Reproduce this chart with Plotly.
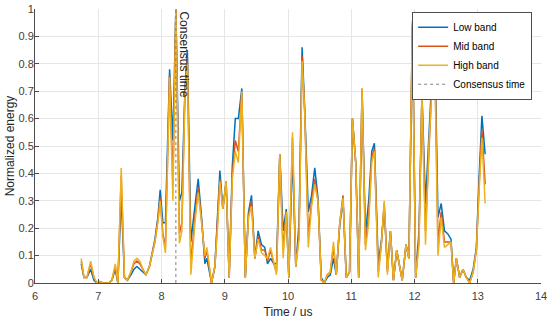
import plotly.graph_objects as go

time_us = [6.731, 6.774, 6.821, 6.880, 6.932, 6.979, 7.027, 7.074, 7.122, 7.169,
           7.216, 7.269, 7.311, 7.363, 7.414, 7.461, 7.517, 7.564, 7.611, 7.659,
           7.706, 7.754, 7.809, 7.848, 7.896, 7.943, 7.979, 8.022, 8.062, 8.128,
           8.180, 8.227, 8.283, 8.322, 8.370, 8.409, 8.464, 8.528, 8.580, 8.633,
           8.686, 8.717, 8.791, 8.844, 8.891, 8.923, 8.970, 9.022, 9.070, 9.120,
           9.167, 9.215, 9.270, 9.325, 9.376, 9.423, 9.476, 9.528, 9.581, 9.633,
           9.676, 9.724, 9.776, 9.818, 9.870, 9.923, 9.973, 10.013, 10.071, 10.123,
           10.175, 10.223, 10.265, 10.321, 10.373, 10.423, 10.474, 10.526, 10.573, 10.621,
           10.668, 10.719, 10.763, 10.818, 10.870, 10.921, 10.973, 11.019, 11.071, 11.118,
           11.171, 11.224, 11.276, 11.324, 11.366, 11.427, 11.479, 11.521, 11.572, 11.619,
           11.667, 11.719, 11.758, 11.806, 11.866, 11.912, 11.967, 12.019, 12.071, 12.118,
           12.174, 12.227, 12.272, 12.319, 12.371, 12.422, 12.474, 12.524, 12.577, 12.619,
           12.662, 12.714, 12.766, 12.820, 12.872, 12.927, 12.978, 13.022, 13.066, 13.117]

low_band = [0.07, 0.02, 0.02, 0.05, 0.01, 0.00, 0.005, 0.00, 0.00, 0.00,
            0.01, 0.05, 0.00, 0.32, 0.02, 0.01, 0.03, 0.05, 0.06, 0.05,
            0.04, 0.03, 0.06, 0.11, 0.16, 0.24, 0.34, 0.22, 0.22, 0.78,
            0.52, 1.00, 0.30, 0.33, 0.70, 0.85, 0.15, 0.28, 0.38, 0.24,
            0.07, 0.09, 0.00, 0.06, 0.25, 0.41, 0.27, 0.37, 0.02, 0.43,
            0.60, 0.60, 0.71, 0.02, 0.26, 0.32, 0.09, 0.19, 0.14, 0.13,
            0.07, 0.09, 0.07, 0.07, 0.47, 0.19, 0.27, 0.02, 0.47, 0.06,
            0.22, 0.86, 0.63, 0.26, 0.32, 0.42, 0.31, 0.02, 0.00, 0.02,
            0.03, 0.09, 0.03, 0.21, 0.30, 0.02, 0.04, 0.60, 0.44, 0.02,
            0.70, 0.18, 0.30, 0.48, 0.51, 0.07, 0.16, 0.28, 0.05, 0.19,
            0.01, 0.12, 0.07, 0.01, 0.14, 0.09, 0.94, 0.02, 0.19, 0.69,
            0.29, 0.53, 0.74, 0.89, 0.24, 0.29, 0.19, 0.18, 0.16, 0.00,
            0.09, 0.02, 0.05, 0.02, 0.01, 0.05, 0.13, 0.39, 0.61, 0.47]

mid_band = [0.08, 0.02, 0.02, 0.07, 0.02, 0.00, 0.005, 0.00, 0.00, 0.00,
            0.01, 0.06, 0.00, 0.39, 0.02, 0.01, 0.04, 0.07, 0.08, 0.07,
            0.05, 0.03, 0.06, 0.10, 0.15, 0.23, 0.31, 0.18, 0.13, 0.76,
            0.36, 1.00, 0.18, 0.22, 0.69, 0.82, 0.06, 0.24, 0.35, 0.23,
            0.09, 0.12, 0.00, 0.06, 0.23, 0.38, 0.27, 0.37, 0.02, 0.40,
            0.52, 0.48, 0.70, 0.02, 0.25, 0.30, 0.09, 0.17, 0.12, 0.12,
            0.08, 0.12, 0.07, 0.04, 0.47, 0.12, 0.26, 0.02, 0.53, 0.06,
            0.18, 0.83, 0.62, 0.17, 0.30, 0.38, 0.30, 0.01, 0.00, 0.03,
            0.04, 0.13, 0.03, 0.22, 0.32, 0.02, 0.04, 0.60, 0.44, 0.02,
            0.71, 0.14, 0.25, 0.46, 0.49, 0.04, 0.15, 0.29, 0.04, 0.19,
            0.01, 0.12, 0.07, 0.01, 0.14, 0.09, 0.95, 0.02, 0.16, 0.69,
            0.19, 0.51, 0.71, 0.85, 0.15, 0.26, 0.15, 0.15, 0.15, 0.00,
            0.09, 0.02, 0.05, 0.02, 0.00, 0.04, 0.12, 0.36, 0.56, 0.36]

high_band = [0.09, 0.02, 0.02, 0.08, 0.02, 0.00, 0.005, 0.00, 0.00, 0.00,
             0.01, 0.07, 0.00, 0.42, 0.02, 0.01, 0.04, 0.08, 0.09, 0.08,
             0.05, 0.03, 0.06, 0.10, 0.15, 0.22, 0.30, 0.17, 0.11, 0.75,
             0.30, 1.00, 0.145, 0.19, 0.68, 0.80, 0.03, 0.22, 0.33, 0.22,
             0.10, 0.13, 0.00, 0.06, 0.22, 0.37, 0.27, 0.37, 0.02, 0.38,
             0.48, 0.44, 0.70, 0.02, 0.24, 0.28, 0.09, 0.16, 0.11, 0.10,
             0.09, 0.13, 0.07, 0.03, 0.47, 0.09, 0.26, 0.02, 0.55, 0.06,
             0.16, 0.81, 0.62, 0.13, 0.28, 0.36, 0.30, 0.01, 0.00, 0.03,
             0.04, 0.15, 0.03, 0.22, 0.31, 0.02, 0.04, 0.60, 0.44, 0.02,
             0.71, 0.12, 0.22, 0.44, 0.48, 0.02, 0.15, 0.30, 0.03, 0.19,
             0.01, 0.12, 0.07, 0.01, 0.14, 0.09, 0.96, 0.02, 0.14, 0.69,
             0.14, 0.50, 0.69, 0.83, 0.10, 0.24, 0.13, 0.14, 0.15, 0.00,
             0.09, 0.02, 0.05, 0.02, 0.00, 0.04, 0.12, 0.34, 0.53, 0.29]

consensus_time = 8.227
consensus_label = "Consensus time"
x_ticks = [6, 7, 8, 9, 10, 11, 12, 13, 14]
y_ticks = [0, 0.1, 0.2, 0.3, 0.4, 0.5, 0.6, 0.7, 0.8, 0.9, 1]
y_tick_labels = ["0", "0.1", "0.2", "0.3", "0.4", "0.5", "0.6", "0.7", "0.8", "0.9", "1"]

FONT = "Liberation Sans, Arial, sans-serif"

fig = go.Figure()
fig.add_trace(go.Scatter(x=time_us, y=low_band, mode="lines", name="Low band",
                         line=dict(color="#0072BD", width=1.5)))
fig.add_trace(go.Scatter(x=time_us, y=mid_band, mode="lines", name="Mid band",
                         line=dict(color="#D95319", width=1.5)))
fig.add_trace(go.Scatter(x=time_us, y=high_band, mode="lines", name="High band",
                         line=dict(color="#EDB120", width=1.5)))
fig.add_trace(go.Scatter(x=[consensus_time, consensus_time], y=[0, 1], mode="lines",
                         name=consensus_label,
                         line=dict(color="#808080", width=1, dash="dot")))

fig.add_annotation(x=consensus_time + 0.125, y=0.835, xref="x", yref="y",
                   text=consensus_label, textangle=90, showarrow=False,
                   font=dict(family=FONT, size=12, color="#262626"))

axis_common = dict(showgrid=True, gridcolor="#e6e6e6", gridwidth=1,
                   zeroline=False, showline=True, linecolor="#4d4d4d", linewidth=1,
                   ticks="inside", ticklen=4, tickcolor="#4d4d4d", automargin=False,
                   ticklabeloverflow="allow",
                   tickfont=dict(family=FONT, size=11, color="#404040"),
                   title_font=dict(family=FONT, size=12, color="#262626"))

fig.update_xaxes(range=[6, 14], tickvals=x_ticks, title_text="Time / us",
                 title_standoff=6, ticklabelstandoff=3, **axis_common)
fig.update_yaxes(range=[0, 1], tickvals=y_ticks, ticktext=y_tick_labels,
                 title_text="Normalized energy", title_standoff=1,
                 ticklabelstandoff=-2, **axis_common)

fig.update_layout(
    width=550, height=320,
    margin=dict(l=35, r=9, t=9, b=37),
    plot_bgcolor="white", paper_bgcolor="white",
    showlegend=True,
    hovermode=False,
    legend=dict(x=0.9825, y=0.99, xanchor="right", yanchor="top",
                bgcolor="white", bordercolor="#4d4d4d", borderwidth=1,
                font=dict(family=FONT, size=10, color="#000000"),
                itemwidth=30, tracegroupgap=0, traceorder="normal"),
)

fig.write_html("out.html",
               config={"displayModeBar": False},
               post_script="document.body.style.margin='0';document.body.style.padding='0';")
